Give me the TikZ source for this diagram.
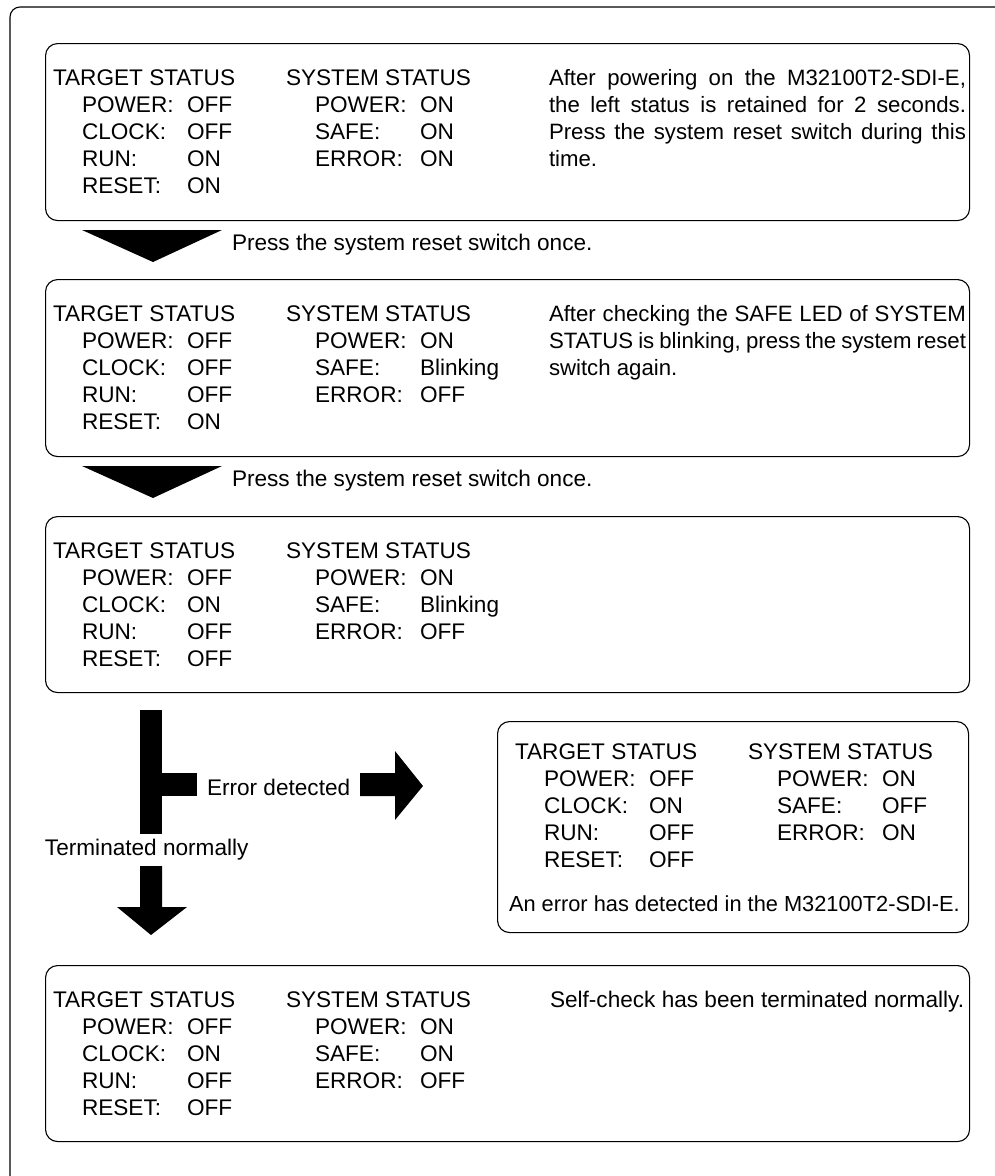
\documentclass[tikz,border=0pt]{standalone}
\usepackage{fontspec}
\setmainfont{Liberation Sans}
\newcommand\nohyph{\hyphenpenalty=10000\exhyphenpenalty=10000\relax}
\tikzset{
  txt/.style={anchor=base west, inner sep=0pt, outer sep=0pt, font=\fontsize{22.6}{27}\selectfont},
  para/.style={txt, text width=417pt, align=justify, font={\fontsize{22.2}{27}\selectfont\nohyph}},
  panel/.style={draw, line width=1.1pt, rounded corners=12pt, anchor=north west, inner sep=0pt},
  frame/.style={draw, line width=1.1pt, rounded corners=10pt},
  blk/.style={fill=black, draw=none},
}
\newcommand\stblk[9]{%
\begin{scope}[shift={(#2)}]
\node[txt] (#1th) at (0,0) {TARGET STATUS};
\node[txt] (#1tpk) at (29,27) {POWER:};
\node[txt] (#1tpv) at (134,27) {#3};
\node[txt] (#1tck) at (29,54) {CLOCK:};
\node[txt] (#1tcv) at (134,54) {#4};
\node[txt] (#1trk) at (29,81) {RUN:};
\node[txt] (#1trv) at (134,81) {#5};
\node[txt] (#1tsk) at (29,108) {RESET:};
\node[txt] (#1tsv) at (134,108) {#6};
\node[txt] (#1sh) at (233,0) {SYSTEM STATUS};
\node[txt] (#1spk) at (262,27) {POWER:};
\node[txt] (#1spv) at (367,27) {#7};
\node[txt] (#1ssk) at (262,54) {SAFE:};
\node[txt] (#1ssv) at (367,54) {#8};
\node[txt] (#1sek) at (262,81) {ERROR:};
\node[txt] (#1sev) at (367,81) {#9};
\end{scope}}
\begin{document}
\begin{tikzpicture}[x=1pt,y=-1pt]
\useasboundingbox (0,0) rectangle (995,1176);
% outer frame (clipped at right and bottom)
\draw[frame] (10,1190) -- (10,7) -- (1010,7);
% panels
\node[panel, minimum width=924pt, minimum height=177pt] (p1) at (45,43) {};
\node[panel, minimum width=924pt, minimum height=177pt] (p2) at (45,279) {};
\node[panel, minimum width=924pt, minimum height=176pt] (p3) at (45,516) {};
\node[panel, minimum width=471pt, minimum height=211pt] (p4) at (497,721) {};
\node[panel, minimum width=924pt, minimum height=176pt] (p5) at (45,965) {};
% status blocks
\stblk{a}{53,85}{OFF}{OFF}{ON}{ON}{ON}{ON}{ON}
\stblk{b}{53,321}{OFF}{OFF}{OFF}{ON}{ON}{Blinking}{OFF}
\stblk{c}{53,558}{OFF}{ON}{OFF}{OFF}{ON}{Blinking}{OFF}
\stblk{d}{515,759}{OFF}{ON}{OFF}{OFF}{ON}{OFF}{ON}
\stblk{e}{53,1007}{OFF}{ON}{OFF}{OFF}{ON}{ON}{OFF}
% descriptions
\node[para] (t1) at (549,85) {After powering on the M32100T2-SDI-E,\linebreak the left status is retained for 2 seconds.\linebreak Press the system reset switch during this\linebreak time.};
\node[para] (t2) at (549,321) {After checking the SAFE LED of SYSTEM\linebreak STATUS is blinking, press the system reset\linebreak switch again.};
\node[txt, font=\fontsize{21.8}{27}\selectfont] (t4) at (509,911) {An error has detected in the M32100T2-SDI-E.};
\node[txt] (t5) at (550,1007) {Self-check has been terminated normally.};
% step arrows
\fill[blk] (82,230) -- (222,230) -- (153,262) -- cycle;
\node[txt] (s1) at (232,250) {Press the system reset switch once.};
\fill[blk] (82,466) -- (222,466) -- (153,498) -- cycle;
\node[txt] (s2) at (232,486) {Press the system reset switch once.};
% branch
\fill[blk] (140,710) rectangle (162,834);
\fill[blk] (162,773) rectangle (197,796);
\node[txt] (err) at (207,795) {Error detected};
\fill[blk] (360,773) -- (395,773) -- (395,751) -- (423,786) -- (395,820) -- (395,796) -- (360,796) -- cycle;
\node[txt] (norm) at (45,855) {Terminated normally};
\fill[blk] (140,866) -- (162,866) -- (162,907) -- (187,907) -- (151,935) -- (117,907) -- (140,907) -- cycle;
\end{tikzpicture}
\end{document}
